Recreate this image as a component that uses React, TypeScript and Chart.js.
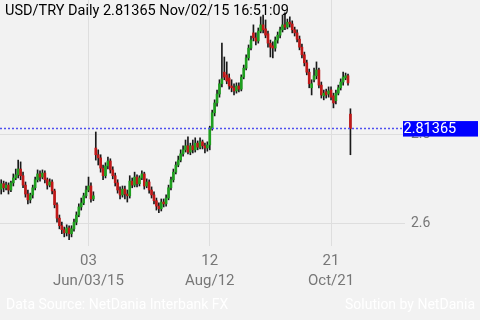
import React, { useEffect, useRef } from 'react';
import { Chart, registerables } from 'chart.js';

Chart.register(...registerables);

const TITLE = 'USD/TRY Daily 2.81365 Nov/02/15 16:51:09';
const SOURCE_TEXT = 'Data Source: NetDania Interbank FX';
const CREDIT_TEXT = 'Solution by NetDania';
const LAST_PRICE = 2.81365;
const LAST_LABEL = '2.81365';
const FIRST_DAY = '2015-04-14';
const EMPTY_SLOTS = 22;
const TICK_INDEX = [36, 86, 136];
const TICK_DAY = ['03', '12', '21'];
const TICK_DATE = ['Jun/03/15', 'Aug/12', 'Oct/21'];
const Y_TICKS = [2.6, 2.8];
const Y_MIN = 2.564;
const Y_MAX = 3.1017;

const OPEN = [
  2.678, 2.690, 2.681, 2.687, 2.676, 2.692, 2.703, 2.710, 2.723, 2.708,
  2.687, 2.667, 2.654, 2.665, 2.681, 2.699, 2.712, 2.705, 2.714, 2.699,
  2.687, 2.694, 2.674, 2.643, 2.613, 2.596, 2.587, 2.580, 2.591, 2.578,
  2.589, 2.604, 2.620, 2.638, 2.647, 2.663, 2.676, 2.685, 2.656, 2.770,
  2.755, 2.748, 2.725, 2.708, 2.730, 2.741, 2.721, 2.708, 2.692, 2.676,
  2.665, 2.678, 2.667, 2.663, 2.696, 2.687, 2.705, 2.690, 2.703, 2.712,
  2.685, 2.694, 2.676, 2.665, 2.652, 2.640, 2.634, 2.649, 2.645, 2.658,
  2.681, 2.699, 2.716, 2.732, 2.743, 2.757, 2.766, 2.775, 2.761, 2.775,
  2.766, 2.781, 2.772, 2.784, 2.775, 2.770, 2.777, 2.815, 2.849, 2.871,
  2.891, 2.914, 2.940, 2.934, 2.927, 2.909, 2.905, 2.898, 2.909, 2.902,
  2.929, 2.949, 2.972, 2.994, 3.028, 3.017, 3.010, 3.032, 3.046, 3.037,
  3.026, 3.005, 2.999, 2.994, 3.012, 3.023, 3.035, 3.046, 3.041, 3.052,
  3.048, 3.035, 3.028, 3.014, 2.996, 2.979, 2.961, 2.940, 2.905, 2.923,
  2.932, 2.945, 2.911, 2.887, 2.896, 2.891, 2.900, 2.887, 2.876, 2.893,
  2.905, 2.918, 2.927, 2.932, 2.846,
];
const HIGH = [
  2.699, 2.696, 2.694, 2.692, 2.696, 2.712, 2.723, 2.743, 2.739, 2.716,
  2.694, 2.676, 2.669, 2.687, 2.705, 2.721, 2.719, 2.721, 2.719, 2.703,
  2.701, 2.699, 2.678, 2.647, 2.620, 2.604, 2.593, 2.598, 2.596, 2.596,
  2.611, 2.627, 2.645, 2.658, 2.669, 2.685, 2.705, 2.692, 2.672, 2.806,
  2.766, 2.755, 2.732, 2.737, 2.750, 2.746, 2.728, 2.714, 2.699, 2.683,
  2.685, 2.685, 2.676, 2.708, 2.703, 2.716, 2.710, 2.708, 2.719, 2.716,
  2.701, 2.699, 2.683, 2.672, 2.658, 2.647, 2.656, 2.656, 2.665, 2.687,
  2.705, 2.723, 2.739, 2.752, 2.766, 2.775, 2.788, 2.795, 2.781, 2.788,
  2.793, 2.786, 2.793, 2.788, 2.781, 2.784, 2.819, 2.855, 2.878, 2.900,
  2.923, 3.005, 2.974, 2.963, 2.936, 2.923, 2.914, 2.916, 2.916, 2.934,
  2.956, 2.979, 3.001, 3.021, 3.046, 3.028, 3.039, 3.064, 3.068, 3.057,
  3.032, 3.012, 3.008, 3.019, 3.030, 3.041, 3.068, 3.073, 3.059, 3.064,
  3.055, 3.041, 3.035, 3.021, 3.003, 2.985, 2.967, 2.947, 2.923, 2.949,
  2.963, 2.949, 2.918, 2.900, 2.902, 2.907, 2.907, 2.893, 2.900, 2.911,
  2.925, 2.940, 2.938, 2.936, 2.858,
];
const LOW = [
  2.667, 2.672, 2.676, 2.667, 2.672, 2.685, 2.699, 2.703, 2.699, 2.681,
  2.660, 2.645, 2.647, 2.658, 2.676, 2.694, 2.696, 2.701, 2.692, 2.678,
  2.683, 2.667, 2.636, 2.604, 2.589, 2.578, 2.571, 2.573, 2.562, 2.571,
  2.584, 2.598, 2.616, 2.631, 2.643, 2.658, 2.672, 2.649, 2.652, 2.743,
  2.732, 2.716, 2.699, 2.703, 2.723, 2.714, 2.701, 2.685, 2.669, 2.656,
  2.660, 2.656, 2.649, 2.658, 2.681, 2.683, 2.683, 2.685, 2.699, 2.678,
  2.681, 2.669, 2.658, 2.645, 2.631, 2.625, 2.629, 2.638, 2.640, 2.654,
  2.676, 2.694, 2.712, 2.728, 2.739, 2.752, 2.761, 2.757, 2.755, 2.759,
  2.761, 2.766, 2.768, 2.768, 2.759, 2.763, 2.766, 2.810, 2.842, 2.864,
  2.884, 2.907, 2.923, 2.914, 2.902, 2.896, 2.889, 2.893, 2.896, 2.898,
  2.925, 2.945, 2.967, 2.990, 3.010, 3.001, 3.005, 3.028, 3.028, 3.017,
  2.996, 2.974, 2.972, 2.987, 3.005, 3.017, 3.030, 3.035, 3.037, 3.041,
  3.028, 3.021, 3.008, 2.990, 2.972, 2.954, 2.934, 2.905, 2.889, 2.918,
  2.925, 2.905, 2.882, 2.878, 2.882, 2.884, 2.878, 2.860, 2.869, 2.889,
  2.900, 2.911, 2.923, 2.911, 2.755,
];
const CLOSE = [
  2.690, 2.681, 2.687, 2.676, 2.692, 2.703, 2.710, 2.723, 2.708, 2.687,
  2.667, 2.654, 2.665, 2.681, 2.699, 2.712, 2.705, 2.714, 2.699, 2.687,
  2.694, 2.674, 2.643, 2.613, 2.596, 2.587, 2.580, 2.591, 2.578, 2.589,
  2.604, 2.620, 2.638, 2.647, 2.663, 2.676, 2.685, 2.656, 2.663, 2.755,
  2.748, 2.725, 2.708, 2.730, 2.741, 2.721, 2.708, 2.692, 2.676, 2.665,
  2.678, 2.667, 2.663, 2.696, 2.687, 2.705, 2.690, 2.703, 2.712, 2.685,
  2.694, 2.676, 2.665, 2.652, 2.640, 2.634, 2.649, 2.645, 2.658, 2.681,
  2.699, 2.716, 2.732, 2.743, 2.757, 2.766, 2.775, 2.761, 2.775, 2.766,
  2.781, 2.772, 2.784, 2.775, 2.770, 2.777, 2.815, 2.849, 2.871, 2.891,
  2.914, 2.925, 2.929, 2.920, 2.909, 2.905, 2.898, 2.909, 2.902, 2.929,
  2.949, 2.972, 2.994, 3.012, 3.017, 3.010, 3.032, 3.046, 3.035, 3.023,
  3.005, 2.996, 2.994, 3.012, 3.023, 3.035, 3.046, 3.041, 3.052, 3.048,
  3.035, 3.028, 3.014, 2.996, 2.979, 2.961, 2.940, 2.914, 2.914, 2.932,
  2.945, 2.911, 2.889, 2.893, 2.889, 2.898, 2.884, 2.871, 2.893, 2.905,
  2.918, 2.929, 2.932, 2.916, 2.81365,
];

const UP_COLOR = '#1f9f1f';
const DOWN_COLOR = '#c01818';
const WICK_COLOR = '#1a1a1a';
const GRID_COLOR = '#dedede';
const AXIS_TEXT = '#777777';
const BG = '#f2f2f2';
const FONT = 'Roboto';

function tradingDays(start: string, count: number): string[] {
  const out: string[] = [];
  const d = new Date(start + 'T00:00:00Z');
  while (out.length < count) {
    const wd = d.getUTCDay();
    if (wd !== 0 && wd !== 6) out.push(d.toISOString().slice(0, 10));
    d.setUTCDate(d.getUTCDate() + 1);
  }
  return out;
}

const decorPlugin = {
  id: 'decor',
  beforeDraw(chart: any) {
    const { ctx, width, height } = chart;
    ctx.save();
    ctx.fillStyle = BG;
    ctx.fillRect(0, 0, width, height);
    ctx.restore();
  },
  afterDatasetsDraw(chart: any) {
    const { ctx, chartArea, scales } = chart;
    const y = scales.y.getPixelForValue(LAST_PRICE);
    ctx.save();
    ctx.strokeStyle = '#5050f0';
    ctx.lineWidth = 1.6;
    ctx.setLineDash([2, 2]);
    ctx.beginPath();
    ctx.moveTo(chartArea.left, y);
    ctx.lineTo(chartArea.right - 3, y);
    ctx.stroke();
    ctx.restore();
  },
  afterDraw(chart: any) {
    const { ctx, chartArea, scales, width } = chart;
    const y = scales.y.getPixelForValue(LAST_PRICE);
    ctx.save();
    ctx.fillStyle = '#0000ff';
    ctx.fillRect(chartArea.right - 2, y - 7.5, width - chartArea.right, 15.5);
    ctx.fillStyle = '#ffffff';
    ctx.font = `14.5px ${FONT}`;
    ctx.textBaseline = 'middle';
    ctx.textAlign = 'left';
    ctx.fillText(LAST_LABEL, chartArea.right - 1.5, y + 0.5);

    ctx.fillStyle = '#000000';
    ctx.font = `14.5px ${FONT}`;
    ctx.textBaseline = 'alphabetic';
    ctx.fillText(TITLE, 5, 15);

    ctx.fillStyle = '#ffffff';
    ctx.font = `14px ${FONT}`;
    ctx.fillText(SOURCE_TEXT, 6, 309);
    ctx.textAlign = 'right';
    ctx.fillText(CREDIT_TEXT, width - 5, 309);
    ctx.restore();
  },
};

export default function App() {
  const ref = useRef<HTMLCanvasElement | null>(null);

  useEffect(() => {
    const canvas = ref.current;
    if (!canvas) return;
    const labels = tradingDays(FIRST_DAY, CLOSE.length + EMPTY_SLOTS);
    const bodies = CLOSE.map((c, i) => [OPEN[i], c]);
    const wicks = CLOSE.map((_, i) => [LOW[i], HIGH[i]]);
    const bodyColors = CLOSE.map((c, i) => (c >= OPEN[i] ? UP_COLOR : DOWN_COLOR));
    const gridColor = (c: any) => (TICK_INDEX.includes(c.index) ? GRID_COLOR : 'rgba(0,0,0,0)');

    const chart = new Chart(canvas, {
      type: 'bar',
      data: {
        labels,
        datasets: [
          {
            label: 'body',
            data: bodies as any,
            backgroundColor: bodyColors,
            barThickness: 2,
            minBarLength: 1,
            grouped: false,
            order: 0,
          },
          {
            label: 'wick',
            data: wicks as any,
            backgroundColor: WICK_COLOR,
            barThickness: 1,
            grouped: false,
            order: 1,
          },
        ],
      },
      options: {
        animation: false,
        responsive: false,
        devicePixelRatio: 1,
        layout: { padding: 0 },
        plugins: {
          legend: { display: false },
          tooltip: { enabled: false },
          title: { display: false },
        },
        scales: {
          x: {
            type: 'category',
            offset: true,
            afterFit: (s: any) => {
              s.height = 80;
              s.paddingLeft = 0;
              s.paddingRight = 0;
            },
            grid: {
              offset: false,
              color: gridColor,
              tickColor: gridColor,
              tickLength: 6,
              drawTicks: true,
            },
            border: { display: false },
            ticks: {
              autoSkip: false,
              maxRotation: 0,
              minRotation: 0,
              padding: 5,
              color: AXIS_TEXT,
              font: { family: FONT, size: 15, lineHeight: '20px' },
              callback: (_v: any, i: number) => {
                const p = TICK_INDEX.indexOf(i);
                return p >= 0 ? [TICK_DAY[p], TICK_DATE[p]] : '';
              },
            },
          },
          y: {
            position: 'right',
            min: Y_MIN,
            max: Y_MAX,
            afterBuildTicks: (s: any) => {
              s.ticks = Y_TICKS.map((v) => ({ value: v }));
            },
            afterFit: (s: any) => {
              s.width = 75;
              s.paddingTop = 0;
              s.paddingBottom = 0;
            },
            grid: { color: GRID_COLOR, drawTicks: false },
            border: { display: false },
            ticks: {
              color: AXIS_TEXT,
              padding: 6,
              font: { family: FONT, size: 14 },
              callback: (v: any) => String(v),
            },
          },
        },
      } as any,
      plugins: [decorPlugin],
    });
    return () => chart.destroy();
  }, []);

  return (
    <div style={{ position: 'fixed', left: 0, top: 0, width: 480, height: 320, background: BG }}>
      <canvas ref={ref} width={480} height={320} style={{ display: 'block', width: 480, height: 320 }} />
    </div>
  );
}
